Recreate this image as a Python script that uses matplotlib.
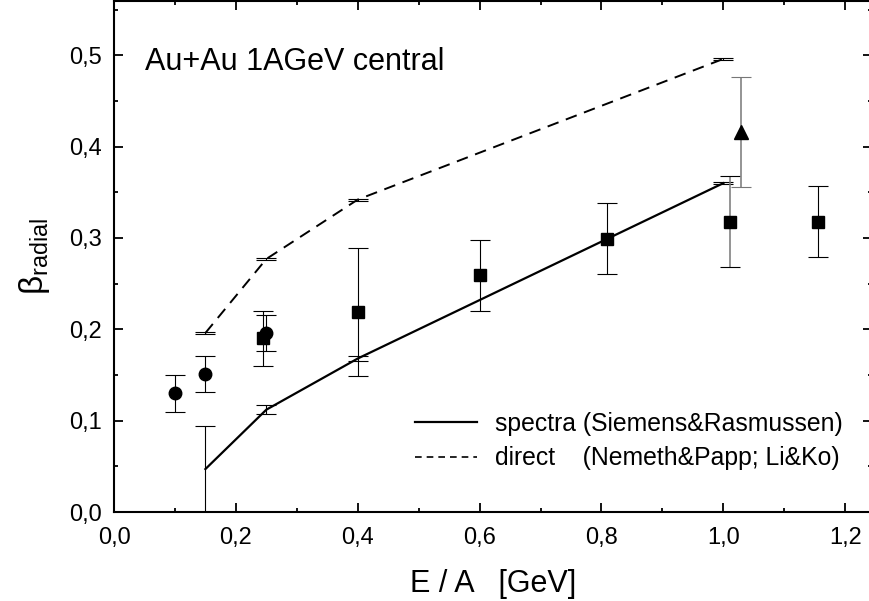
import matplotlib

matplotlib.use("Agg")
import matplotlib.pyplot as plt
from matplotlib.lines import Line2D
from matplotlib.ticker import MultipleLocator, FuncFormatter

plt.rcParams["font.family"] = ["Liberation Sans", "DejaVu Sans"]
plt.rcParams["mathtext.default"] = "regular"

# model curves: spectra fit (Siemens&Rasmussen) and direct estimate
spec_x = [0.15, 0.25, 0.40, 1.00]
spec_y = [0.047, 0.112, 0.168, 0.360]
spec_lo = [0.047, 0.005, 0.003, 0.001]
spec_hi = [0.047, 0.005, 0.003, 0.001]

dir_x = [0.15, 0.25, 0.40, 1.00]
dir_y = [0.196, 0.277, 0.342, 0.496]
dir_err = [0.001, 0.001, 0.001, 0.001]

# measured points
circ_x = [0.10, 0.15, 0.25]
circ_y = [0.130, 0.151, 0.196]
circ_err = [0.020, 0.020, 0.020]

sq_x = [0.245, 0.40, 0.60, 0.809, 1.011, 1.156]
sq_y = [0.190, 0.219, 0.259, 0.299, 0.318, 0.318]
sq_err = [0.030, 0.070, 0.039, 0.039, 0.050, 0.039]

tri_x = [1.029]
tri_y = [0.416]
tri_err = [0.060]

fig = plt.figure(figsize=(8.69, 6.01), dpi=100)
ax = fig.add_axes([114 / 869, 89 / 601, 758 / 869, 511 / 601])

ax.errorbar(spec_x, spec_y, yerr=[spec_lo, spec_hi],
            color="black", lw=1.6, elinewidth=0.8, capsize=7, capthick=0.8)
ax.errorbar(dir_x, dir_y, yerr=dir_err, color="black", lw=1.4, dashes=(6, 4),
            elinewidth=0.8, capsize=7, capthick=0.8)

ms_kw = dict(ls="none", color="black", ecolor="black", elinewidth=0.8, capsize=7, capthick=0.8)
ax.errorbar(circ_x, circ_y, yerr=circ_err, fmt="o", ms=9, **ms_kw)
sq = ax.errorbar(sq_x, sq_y, yerr=sq_err, fmt="s", ms=8.5, **ms_kw)
# the 1 GeV square has a grey bar in the original
sq[2][0].set_colors(["black"] * 4 + ["#777777", "black"])
sq[2][0].set_linewidths([0.8] * 4 + [1.1, 0.8])
ax.errorbar(tri_x, tri_y, yerr=tri_err, fmt="^", ms=10,
            ls="none", color="black", ecolor="#777777", elinewidth=1.1, capsize=7, capthick=0.8)

ax.set_xlim(0, 1.244)
ax.set_ylim(0, 0.5594)
ax.xaxis.set_major_locator(MultipleLocator(0.2))
ax.xaxis.set_minor_locator(MultipleLocator(0.1))
ax.yaxis.set_major_locator(MultipleLocator(0.1))
ax.yaxis.set_minor_locator(MultipleLocator(0.05))
comma = FuncFormatter(lambda v, p: f"{v:.1f}".replace(".", ","))
ax.xaxis.set_major_formatter(comma)
ax.yaxis.set_major_formatter(comma)
ax.tick_params(which="both", direction="in", top=True, right=True, labelsize=17, width=1.3)
ax.tick_params(which="major", length=6.5)
ax.tick_params(axis="x", which="major", pad=11)
ax.tick_params(axis="y", which="major", pad=9)
ax.tick_params(which="minor", length=3)
for sp in ax.spines.values():
    sp.set_linewidth(1.5)

ax.set_xlabel("E / A   [GeV]", fontsize=22, labelpad=14)
ax.set_ylabel(r"$\beta_{radial}$", fontsize=24, labelpad=12)
ax.text(145 / 869, 1 - 62 / 601, "Au+Au 1AGeV central", transform=fig.transFigure,
        fontsize=22, va="center", ha="left")

handles = [Line2D([], [], color="black", lw=1.6),
           Line2D([], [], color="black", lw=1.2, dashes=(4, 3))]
labels = ["spectra (Siemens&Rasmussen)", "direct    (Nemeth&Papp; Li&Ko)"]
ax.legend(handles, labels, loc="upper left", bbox_to_anchor=(415 / 869, 1 - 412 / 601),
          bbox_transform=fig.transFigure, frameon=False, fontsize=17.8,
          handlelength=2.5, handletextpad=0.75, borderpad=0, borderaxespad=0, labelspacing=0.42)

fig.savefig("out.png", dpi=100)
